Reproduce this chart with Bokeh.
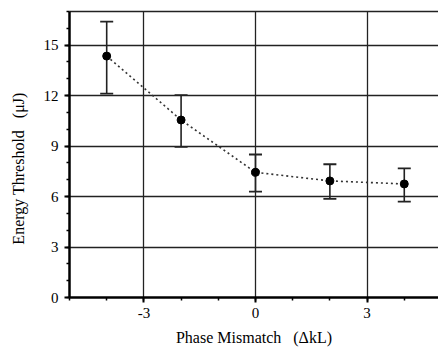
from bokeh.plotting import figure
from bokeh.models import ColumnDataSource, Whisker, TeeHead, FixedTicker, Range1d, LinearAxis
from bokeh.embed import file_html
from bokeh.resources import INLINE

# data
mismatch = [-4, -2, 0, 2, 4]
threshold = [14.35, 10.55, 7.44, 6.93, 6.75]
err_upper = [16.4, 12.03, 8.5, 7.92, 7.68]
err_lower = [12.12, 8.95, 6.29, 5.86, 5.70]
x_ticks = [-3, 0, 3]
y_ticks = [0, 3, 6, 9, 12, 15]
y_top = 17

src = ColumnDataSource(dict(x=mismatch, y=threshold, up=err_upper, lo=err_lower))

FONT = "Liberation Serif"
NB = "\u00a0"

p = figure(width=438, height=354, output_backend="svg", toolbar_location=None,
           x_range=Range1d(-5, 4.92), y_range=Range1d(0, y_top),
           min_border_left=69, min_border_right=0, min_border_top=11, min_border_bottom=57)

p.background_fill_color = "white"
p.border_fill_color = "white"
p.outline_line_color = None

xax = p.below[0]
yax = p.left[0]

xax.ticker = FixedTicker(ticks=x_ticks, minor_ticks=list(range(-5, 6)))
yax.ticker = FixedTicker(ticks=y_ticks, minor_ticks=list(range(0, 18)))
xax.major_label_overrides = {-3: "-3", 0: "0", 3: "3"}

for ax in (xax, yax):
    ax.axis_line_color = "black"
    ax.axis_line_width = 2.5
    ax.major_tick_line_color = "black"
    ax.major_tick_line_width = 2
    ax.major_tick_in = 0
    ax.major_tick_out = 5
    ax.minor_tick_line_color = "black"
    ax.minor_tick_line_width = 1.5
    ax.minor_tick_in = 0
    ax.minor_tick_out = 3
    ax.major_label_text_font = FONT
    ax.major_label_text_font_size = "15px"
    ax.major_label_text_color = "black"
    ax.axis_label_text_font = FONT
    ax.axis_label_text_font_size = "16px"
    ax.axis_label_text_font_style = "normal"
    ax.axis_label_text_color = "black"

xax.axis_label = "Phase Mismatch" + NB * 3 + "(\u0394kL)"
yax.axis_label = "Energy Threshold" + NB * 3 + "(\u03bcJ)" + NB * 7
xax.major_label_standoff = 5
yax.major_label_standoff = 6
xax.axis_label_standoff = 8
yax.axis_label_standoff = 14

# top border line only
top = LinearAxis(ticker=FixedTicker(ticks=[]), axis_line_color="#222222", axis_line_width=1.5,
                 major_tick_line_color=None, minor_tick_line_color=None,
                 major_tick_out=0, minor_tick_out=0, major_label_standoff=0,
                 axis_label_standoff=0, major_label_text_font_size="0px")
p.add_layout(top, "above")

p.xgrid.grid_line_color = "#222222"
p.xgrid.grid_line_width = 1.3
p.ygrid.grid_line_color = "#222222"
p.ygrid.grid_line_width = 1.3

p.line("x", "y", source=src, line_color="#333333", line_width=1.6, line_dash="2 3")

w = Whisker(base="x", upper="up", lower="lo", source=src,
            line_color="#222222", line_width=1.6,
            upper_head=TeeHead(size=13, line_color="#222222", line_width=1.8),
            lower_head=TeeHead(size=13, line_color="#222222", line_width=1.8))
p.add_layout(w)

p.scatter("x", "y", source=src, size=8, fill_color="black", line_color="black")

open("out.html", "w").write(file_html(p, INLINE))
